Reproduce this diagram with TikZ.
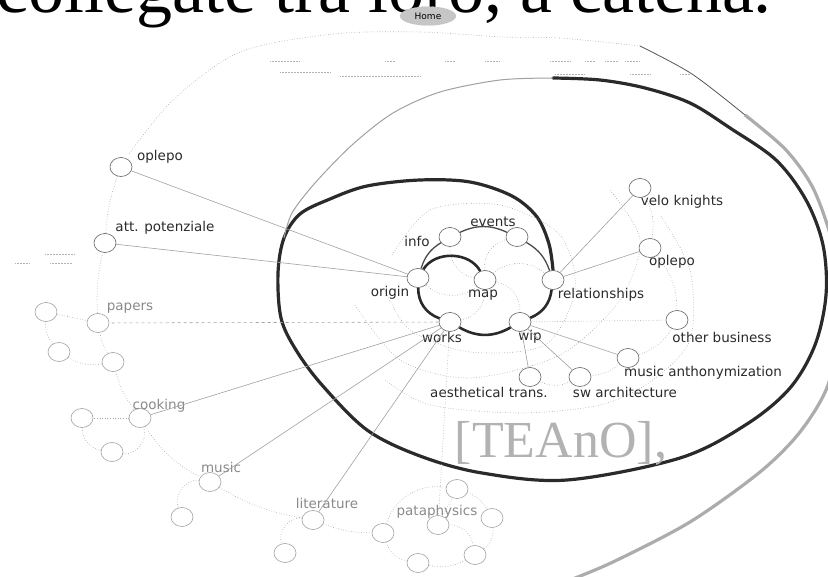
\documentclass[tikz,border=0pt]{standalone}
\usepackage{fontspec}
\setmainfont{Liberation Serif}
\newfontfamily\labelfont{DejaVu Sans}
\usetikzlibrary{shapes.geometric,positioning}
\definecolor{ink}{HTML}{2A2A2A}
\definecolor{haze}{HTML}{A0A0A0}
\pgfdeclarelayer{bg}
\pgfsetlayers{bg,main}

\tikzset{
  spot/.style={ellipse,draw=ink!75,line width=0.6pt,fill=white,minimum width=22pt,minimum height=19pt,inner sep=0pt},
  farspot/.style={spot,draw=haze},
  lbl/.style={font=\labelfont\fontsize{13.5}{14}\selectfont,text=ink,inner sep=0pt},
  farlbl/.style={lbl,text=ink!55},
  spoke/.style={draw=haze,line width=0.6pt},
  swirl/.style={draw=haze,dotted,line width=0.6pt},
  core/.style={draw=ink,line width=2.6pt},
  rim/.style={draw=ink!85,line width=1.3pt},
  spiral/.style={draw=ink,line width=3.2pt,line cap=round},
  halo/.style={draw=gray!65,line width=3.2pt},
  fleck/.style={draw=haze!80,densely dotted,line width=0.5pt},
}

\begin{document}
\begin{tikzpicture}[x=1pt,y=-1pt]
\useasboundingbox (0,0) rectangle (828,577);
\clip (0,0) rectangle (828,577);

% slide text
\node[font=\fontsize{72}{72}\selectfont,anchor=base east,inner sep=0pt] (head) at (772,13) {collegate tra loro, a catena.};
\node[font=\fontsize{52}{52}\selectfont,text=gray!60,anchor=base,inner sep=0pt] (teano) at (561,457) {[TEAnO],};
\node[ellipse,fill=gray!45,draw=gray!55,densely dotted,font=\labelfont\fontsize{9}{9}\selectfont,inner sep=1.5pt,minimum width=56pt,minimum height=19pt] (home) at (428,16) {Home};

% inner ring
\node[spot] (info) at (450,237) {};
\node[spot] (events) at (517,237) {};
\node[spot] (origin) at (418,278) {};
\node[spot] (map) at (485,280) {};
\node[spot] (rel) at (553,280) {};
\node[spot] (works) at (450,322) {};
\node[spot] (wip) at (520,322) {};
\node[lbl] (info-l) at (417,241) {info};
\node[lbl] (events-l) at (493,222) {events};
\node[lbl] (origin-l) at (390,293) {origin};
\node[lbl] (map-l) at (483,295) {map};
\node[lbl] (rel-l) at (601,295) {relationships};
\node[lbl] (works-l) at (442,337) {works};
\node[lbl] (wip-l) at (530,337) {wip};

% middle ring
\node[spot] (velo) at (640,188) {};
\node[spot] (oplepoR) at (650,248) {};
\node[spot] (other) at (677,320) {};
\node[spot] (musican) at (628,358) {};
\node[spot] (swarch) at (580,377) {};
\node[spot] (aesth) at (530,377) {};
\node[lbl] (velo-l) at (682,202) {velo knights};
\node[lbl] (oplepoR-l) at (672,262) {oplepo};
\node[lbl] (other-l) at (722,337) {other business};
\node[lbl] (musican-l) at (703,373) {music anthonymization};
\node[lbl] (swarch-l) at (625,392) {sw architecture};
\node[lbl] (aesth-l) at (489,392) {aesthetical trans.};

% outer ring
\node[spot] (oplepoL) at (121,167) {};
\node[spot] (attpot) at (105,243) {};
\node[lbl] (oplepoL-l) at (160,157) {oplepo};
\node[lbl] (attpot-l) at (165,228) {att. potenziale};
\node[farspot] (papers) at (98,323) {};
\node[farspot] (pap1) at (46,312) {};
\node[farspot] (pap2) at (59,352) {};
\node[farspot] (pap3) at (113,362) {};
\node[farspot] (cooking) at (140,418) {};
\node[farspot] (cook1) at (82,418) {};
\node[farspot] (cook2) at (112,452) {};
\node[farspot] (music) at (210,482) {};
\node[farspot] (mus1) at (182,517) {};
\node[farspot] (lit) at (313,520) {};
\node[farspot] (lit1) at (285,553) {};
\node[farspot] (pata) at (438,525) {};
\node[farspot] (pat1) at (457,489) {};
\node[farspot] (pat2) at (492,518) {};
\node[farspot] (pat3) at (383,533) {};
\node[farspot] (pat4) at (475,555) {};
\node[farspot] (pat5) at (418,563) {};
\node[farlbl] (papers-l) at (130,308) {papers};
\node[farlbl] (cooking-l) at (159,406) {cooking};
\node[farlbl] (music-l) at (221,467) {music};
\node[farlbl] (lit-l) at (327,503) {literature};
\node[farlbl] (pata-l) at (437,512) {pataphysics};

\begin{pgfonlayer}{bg}
% big spiral and outer band
\draw[spiral] plot[smooth,tension=0.55] coordinates {(553,270) (549,244) (537,217) (512,196) (470,182) (420,180) (367,186) (330,199) (300,214) (284,238) (278,273) (281,318) (296,350) (322,385) (367,430) (420,456) (482,473) (567,480) (680,458) (747,424) (790,388) (815,345) (826,295) (823,245) (806,200) (776,160) (730,128) (690,103) (645,88) (600,80) (553,78)};
\draw[spoke,line width=1pt] plot[smooth] coordinates {(553,78) (500,80) (440,92) (393,113) (352,145) (315,183) (292,213) (284,238)};
\draw[halo] plot[smooth] coordinates {(745,115) (786,150) (814,190) (834,250) (840,320) (828,385) (800,432) (760,472) (690,522) (613,562) (565,582)};
\draw[draw=ink!80,line width=0.8pt] plot[smooth] coordinates {(640,46) (692,74) (745,115)};
\draw[swirl] plot[smooth] coordinates {(640,46) (560,38) (503,37) (420,32) (333,34) (240,52) (173,100) (129,154)};
% inner swirls
\draw[swirl] (map) to[bend left=40] (info);
\draw[swirl] (map) to[bend left=40] (events);
\draw[swirl] (map) to[bend left=40] (rel);
\draw[swirl] (map) to[bend left=40] (wip);
\draw[swirl] (map) to[bend left=40] (works);
\draw[swirl] (map) to[bend left=40] (origin);
\draw[swirl] plot[smooth] coordinates {(392,255) (430,210) (500,205) (560,235) (575,290) (545,345) (470,352) (410,330) (385,290)};
\draw[swirl] plot[smooth] coordinates {(385,380) (430,405) (520,413) (600,405) (650,382) (690,340) (690,270) (660,215)};
\draw[swirl] plot[smooth] coordinates {(355,305) (400,360) (470,378) (560,355) (620,300) (640,240) (610,190)};
\end{pgfonlayer}

% inner ring links
\draw[core] (origin) to[bend right=35] (works);
\draw[core] (works) to[bend right=30] (wip);
\draw[core] (wip) to[bend right=30] (rel);
\draw[core] (origin) to[bend left=60] (map);
\draw[rim] (origin) to[bend left=20] (info);
\draw[rim] (info) to[bend left=25] (events);
\draw[rim] (events) to[bend left=20] (rel);

% spokes
\draw[spoke] (origin) -- (oplepoL);
\draw[spoke] (origin) -- (attpot);
\draw[spoke,dashed] (works) -- (papers);
\draw[spoke] (works) -- (cooking);
\draw[spoke] (works) -- (music);
\draw[spoke] (works) -- (lit);
\draw[swirl] (works) -- (pata);
\draw[spoke] (rel) -- (velo);
\draw[spoke] (rel) -- (oplepoR);
\draw[swirl] (wip) -- (other);
\draw[spoke] (wip) -- (musican);
\draw[spoke] (wip) -- (swarch);
\draw[spoke] (wip) -- (aesth);

% middle ring dotted arcs
\draw[swirl] (velo) to[bend left=20] (oplepoR);
\draw[swirl] (oplepoR) to[bend left=20] (other);
\draw[swirl] (other) to[bend left=20] (musican);
\draw[swirl] (musican) to[bend left=15] (swarch);
\draw[swirl] (swarch) to[bend left=25] (aesth);

% outer ring dotted arcs
\draw[swirl] (oplepoL) to[bend right=8] (attpot);
\draw[swirl] (attpot) to[bend right=8] (papers);
\draw[swirl] (papers) to[bend right=10] (pap3);
\draw[swirl] (pap3) to[bend right=10] (cooking);
\draw[swirl] (cooking) to[bend right=15] (music);
\draw[swirl] (music) to[bend right=10] (lit);
\draw[swirl] (lit) to[bend right=10] (pat3);
\draw[swirl] (pap1) -- (papers);
\draw[swirl] (pap1) to[bend right=20] (pap2);
\draw[swirl] (pap2) to[bend right=20] (pap3);
\draw[swirl] (cooking) -- (cook1);
\draw[swirl] (cook1) to[bend right=40] (cook2);
\draw[swirl] (cook2) to[bend right=60] (cooking);
\draw[swirl] (music) to[bend right=60] (mus1);
\draw[swirl] (lit) to[bend right=60] (lit1);
\draw[swirl] (pata) -- (pat1);
\draw[swirl] (pat1) to[bend left=20] (pat2);
\draw[swirl] (pat2) to[bend left=30] (pat4);
\draw[swirl] (pat4) to[bend left=20] (pat5);
\draw[swirl] (pat5) to[bend left=30] (pat3);
\draw[swirl] (pata) to[bend left=40] (pat4);
\draw[swirl] (pat3) to[bend left=40] (pat1);

% faint tiny texts
\draw[fleck] (270,61)--(300,61) (385,61)--(395,61) (445,61)--(455,61) (485,61)--(500,61) (550,61)--(570,61) (585,61)--(595,61) (605,61)--(618,61) (625,61)--(640,61);
\draw[fleck] (280,72)--(330,72) (340,76)--(420,76) (555,74)--(585,74) (630,74)--(650,74) (680,74)--(690,74);
\draw[fleck] (45,254)--(75,254) (15,263)--(30,263) (50,263)--(72,263);
\end{tikzpicture}
\end{document}
